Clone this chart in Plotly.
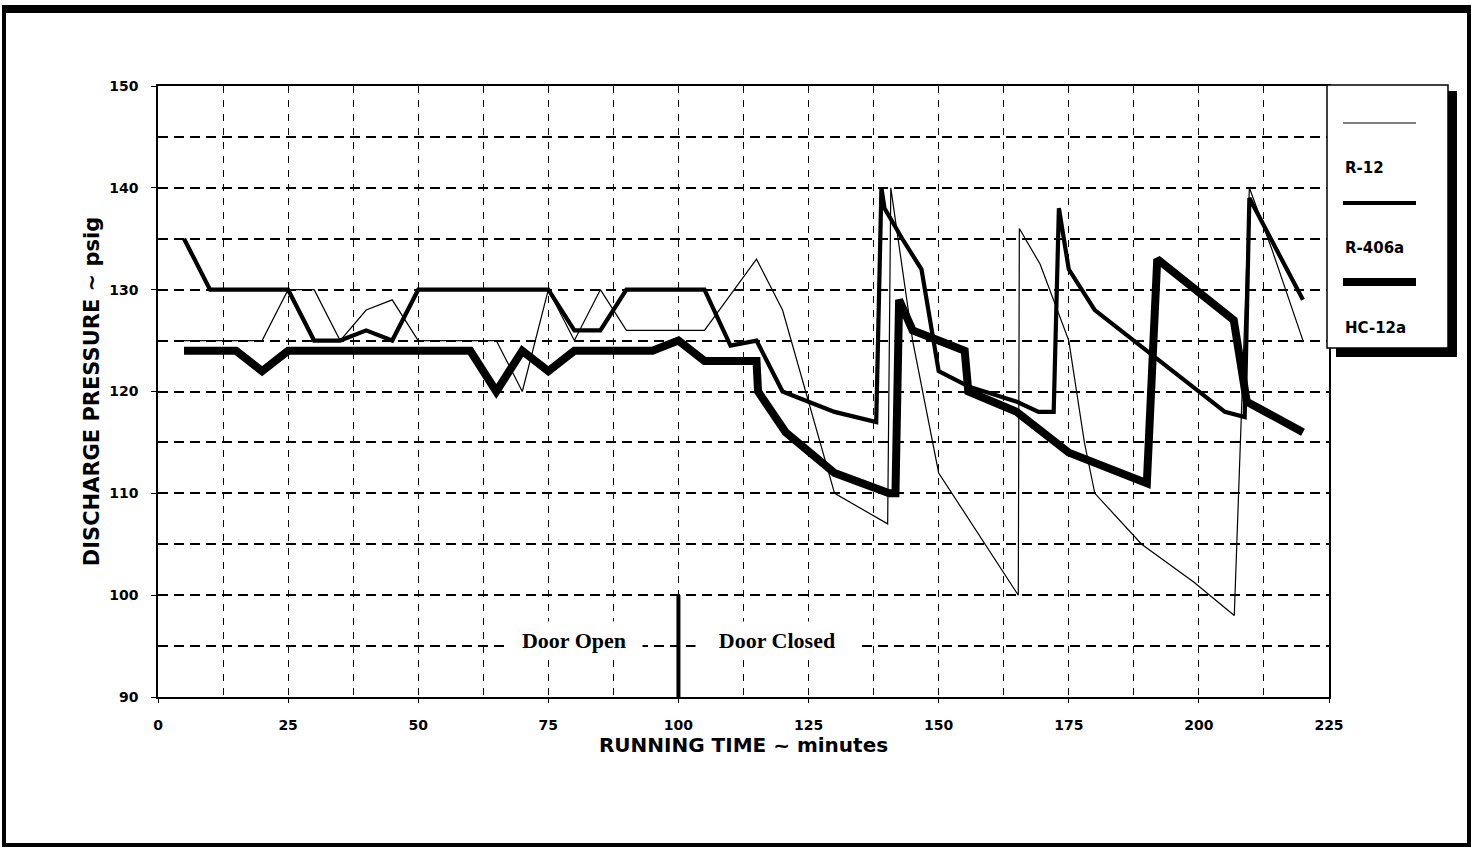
import plotly.graph_objects as go

# ---------------- data ----------------
r12_t = [5, 20, 25, 30, 35, 40, 45, 50, 65, 70, 75, 80, 85, 90, 105, 115, 120, 130,
         140.2, 140.8, 145, 150, 165.3, 165.5, 169.5, 172, 175, 178, 180, 189, 199,
         206.8, 209.7, 214, 220]
r12_v = [125, 125, 130, 130, 125, 128, 129, 125, 125, 120, 130, 125, 130, 126, 126, 133, 128, 110,
         107, 140, 125, 112, 100, 136, 132.5, 129, 125, 115, 110, 105, 101.3,
         98, 140, 134, 125]

r406a_t = [5, 10, 25, 30, 35, 40, 45, 50, 75, 80, 85, 90, 105, 110, 115, 120, 125, 130,
           138, 139, 139.6, 143, 146.7, 150, 155.7, 165, 169.2, 172.1, 173.1, 175, 180,
           205, 208.8, 209.7, 220]
r406a_v = [135, 130, 130, 125, 125, 126, 125, 130, 130, 126, 126, 130, 130, 124.5, 125, 120, 119, 118,
           117, 140, 138, 135, 132, 122, 120.5, 119, 118, 118, 138, 132, 128,
           118, 117.5, 139, 129]

hc12a_t = [5, 15, 20, 25, 60, 65, 70, 75, 80, 95, 100, 105, 115, 115.3, 120.6, 130,
           140.5, 141.7, 142.4, 145, 150, 155, 155.7, 165, 175, 180, 190, 192,
           206.7, 209.2, 220]
hc12a_v = [124, 124, 122, 124, 124, 120, 124, 122, 124, 124, 125, 123, 123, 120, 116, 112,
           110, 110, 129, 126, 125, 124, 120, 118, 114, 113, 111, 133,
           127, 119, 116]

series_names = ["R-12", "R-406a", "HC-12a"]
x_ticks = [0, 25, 50, 75, 100, 125, 150, 175, 200, 225]
y_ticks = [90, 100, 110, 120, 130, 140, 150]
door_time = 100
door_labels = ["Door Open", "Door Closed"]

# ---------------- figure ----------------
W, H = 1471, 848
L, R, T, B = 158, 1329, 86, 697   # plot area in pixels


def xp(px):
    return (px - L) / (R - L)


def yp(py):
    return (B - py) / (B - T)


widths = [1.2, 4.2, 8]
fig = go.Figure()
for name, t, v, w in zip(series_names, [r12_t, r406a_t, hc12a_t],
                         [r12_v, r406a_v, hc12a_v], widths):
    fig.add_trace(go.Scatter(x=t, y=v, mode="lines", name=name,
                             line=dict(color="black", width=w),
                             showlegend=False))

tick_font = dict(family="DejaVu Sans", size=14, color="black", weight="bold")

fig.update_xaxes(
    range=[0, 225], tickvals=x_ticks, ticktext=[str(v) for v in x_ticks],
    showgrid=True, gridcolor="black", gridwidth=1, griddash="7px,7px",
    minor=dict(dtick=12.5, tick0=0, showgrid=True, gridcolor="black",
               gridwidth=1, griddash="7px,7px", ticks=""),
    showline=True, linecolor="black", linewidth=2, mirror=True,
    ticks="outside", ticklen=4, tickcolor="black", ticklabelstandoff=10,
    zeroline=False, tickfont=tick_font,
    title=dict(text="RUNNING TIME ~ minutes",
               font=dict(family="DejaVu Sans", size=20, color="black", weight="bold"),
               standoff=2),
)
fig.update_yaxes(
    range=[90, 150], tickvals=y_ticks, ticktext=[str(v) for v in y_ticks],
    showgrid=True, gridcolor="black", gridwidth=1.5, griddash="10px,6px",
    minor=dict(dtick=5, tick0=90, showgrid=True, gridcolor="black",
               gridwidth=1.5, griddash="10px,6px", ticks=""),
    showline=True, linecolor="black", linewidth=1.5, mirror=True,
    ticks="outside", ticklen=5, tickcolor="black", ticklabelstandoff=10,
    zeroline=False, tickfont=tick_font,
    title=dict(text="DISCHARGE PRESSURE ~ psig",
               font=dict(family="DejaVu Sans", size=21, color="black", weight="bold"),
               standoff=4),
)

shapes = []
# door marker line
shapes.append(dict(type="line", xref="x", yref="y", x0=door_time, x1=door_time,
                   y0=90, y1=100, line=dict(color="black", width=4), layer="above"))


def rect(x0, y0, x1, y1, fill="black", line=None, layer="above"):
    d = dict(type="rect", xref="paper", yref="paper",
             x0=xp(x0), x1=xp(x1), y0=yp(y1), y1=yp(y0),
             fillcolor=fill, layer=layer)
    d["line"] = line if line else dict(width=0)
    return d


# outer page frame (scan border)
shapes.append(rect(2, 5, 1471, 13))      # top
shapes.append(rect(2, 5, 6, 847))        # left
shapes.append(rect(2, 843, 1471, 847))   # bottom
shapes.append(rect(1467, 5, 1471, 847))  # right

# custom legend box with drop shadow
shapes.append(rect(1336, 91, 1457, 357))
shapes.append(rect(1327, 85, 1448, 348, fill="white", line=dict(color="black", width=1.5)))
legend_line_y = [123, 203, 282]
legend_text_y = [168, 248, 328]
for w, ly in zip(widths, legend_line_y):
    shapes.append(dict(type="line", xref="paper", yref="paper",
                       x0=xp(1343), x1=xp(1416), y0=yp(ly), y1=yp(ly),
                       line=dict(color="black", width=w), layer="above"))

annotations = []
for name, ty in zip(series_names, legend_text_y):
    annotations.append(dict(xref="paper", yref="paper", x=xp(1343), y=yp(ty),
                            text=name, showarrow=False, xanchor="left", yanchor="middle",
                            font=dict(family="DejaVu Sans", size=15, color="black",
                                      weight="bold")))

serif_font = dict(family="Liberation Serif", size=22, color="black", weight="bold")
annotations.append(dict(xref="x", yref="y", x=80, y=95.6, text=door_labels[0],
                        showarrow=False, font=serif_font, bgcolor="white",
                        width=134, height=34))
annotations.append(dict(xref="x", yref="y", x=119, y=95.6, text=door_labels[1],
                        showarrow=False, font=serif_font, bgcolor="white",
                        width=160, height=34))

fig.update_layout(
    width=W, height=H, autosize=False,
    margin=dict(l=L, r=W - R, t=T, b=H - B, pad=0),
    paper_bgcolor="white", plot_bgcolor="white",
    shapes=shapes, annotations=annotations,
    showlegend=False,
)

fig.write_html("out.html",
               config={"displayModeBar": False},
               post_script="document.body.style.margin='0';document.body.style.overflow='hidden';")
